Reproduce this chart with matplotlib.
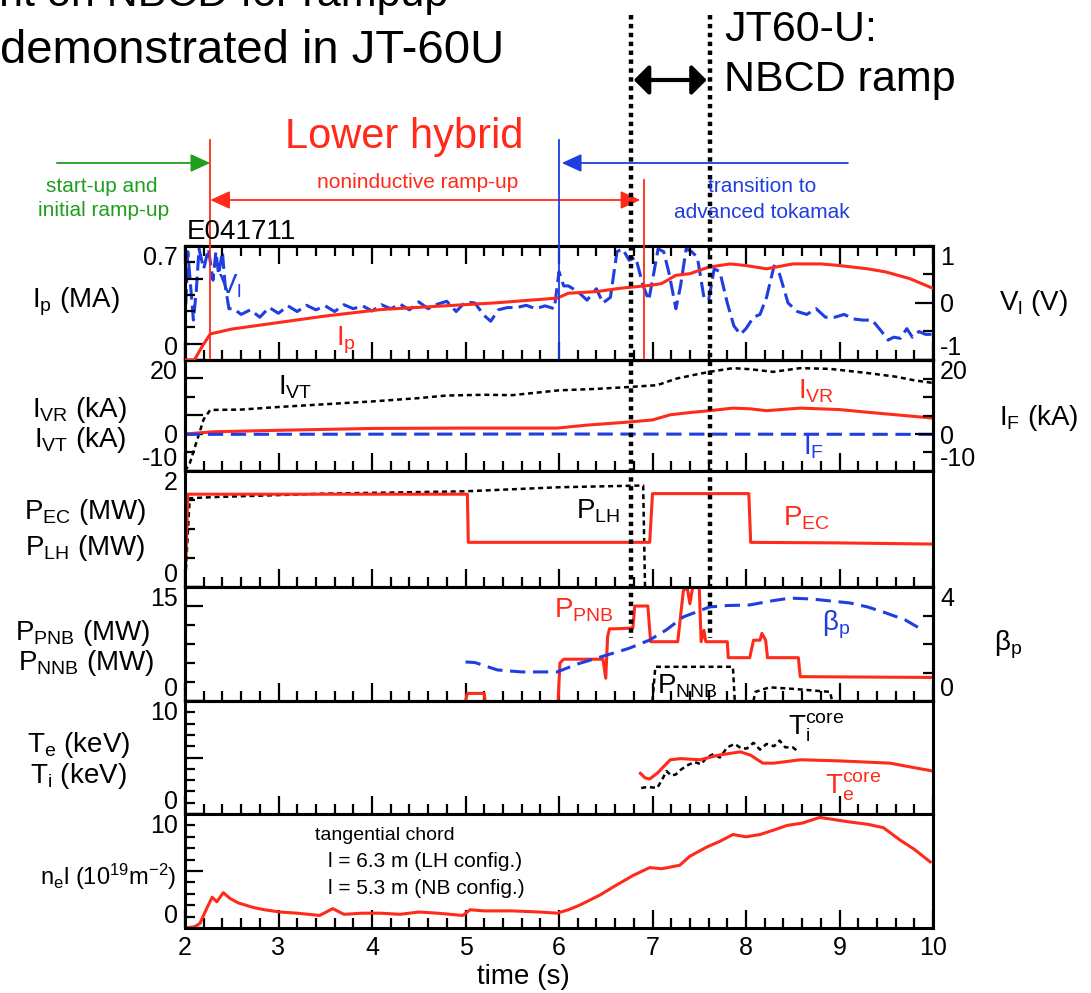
import numpy as np
import matplotlib
matplotlib.use("Agg")
import matplotlib.pyplot as plt
from matplotlib.patches import FancyArrowPatch
from matplotlib.lines import Line2D
from matplotlib.transforms import blended_transform_factory
from matplotlib.ticker import MultipleLocator

plt.rcParams['font.family'] = ['Liberation Sans', 'DejaVu Sans']
plt.rcParams['mathtext.fontset'] = 'custom'
plt.rcParams['mathtext.rm'] = 'Liberation Sans'
plt.rcParams['mathtext.it'] = 'Liberation Sans'
plt.rcParams['mathtext.default'] = 'regular'

RED = "#ff2a1a"
BLUE = "#1f3ee0"
GREEN = "#1f9e1f"

# ---- data ----
# phase boundaries (s)
t_lh_start = 2.27
t_transition = 6.0
t_lh_end = 6.91
t_nbcd = [6.77, 7.61]
t_green_from = 0.63
t_blue_from = 9.09

# panel 1: plasma current (MA) and loop voltage (V)
t_ip = [2.0, 2.1, 2.18, 2.27, 2.5, 3.0, 3.5, 4.1, 4.7, 5.3,
        5.98, 6.1, 6.4, 6.65, 7.0, 7.1, 7.25, 7.4, 7.6, 7.83,
        8.0, 8.22, 8.5, 8.8, 9.0, 9.3, 9.5, 9.75, 10.0]
ip = [0.0, 0.0, 0.08, 0.16, 0.19, 0.23, 0.27, 0.31, 0.33, 0.35,
      0.38, 0.41, 0.42, 0.44, 0.46, 0.47, 0.52, 0.53, 0.57, 0.59,
      0.58, 0.56, 0.59, 0.59, 0.58, 0.56, 0.54, 0.50, 0.44]

t_vl = [2.00, 2.03, 2.06, 2.09, 2.12, 2.15, 2.20, 2.25, 2.30, 2.33,
        2.36, 2.40, 2.43, 2.47, 2.52, 2.60, 2.70, 2.80, 2.90, 3.00,
        3.10, 3.20, 3.30, 3.40, 3.50, 3.60, 3.70, 3.80, 3.90, 4.00,
        4.10, 4.20, 4.30, 4.40, 4.50, 4.60, 4.70, 4.80, 4.90, 5.00,
        5.10, 5.20, 5.27, 5.35, 5.45, 5.55, 5.65, 5.75, 5.85, 5.95,
        6.00, 6.05, 6.10, 6.20, 6.30, 6.40, 6.47, 6.55, 6.62, 6.68,
        6.75, 6.82, 6.90, 6.96, 7.00, 7.06, 7.12, 7.18, 7.25, 7.30,
        7.36, 7.42, 7.48, 7.55, 7.60, 7.66, 7.72, 7.80, 7.87, 7.94,
        8.00, 8.08, 8.15, 8.22, 8.30, 8.36, 8.45, 8.55, 8.65, 8.75,
        8.85, 8.95, 9.05, 9.15, 9.25, 9.35, 9.45, 9.52, 9.58, 9.65,
        9.72, 9.78, 9.85, 9.92, 10.0]
v_l = [-0.4, 0.9, 0.3, -0.3, 0.2, 0.95, 0.6, 0.95, 0.4, 0.9,
       0.5, 0.9, 0.3, -0.1, -0.1, -0.2, -0.12, -0.25, -0.08, -0.18,
       -0.05, -0.15, -0.04, -0.12, -0.05, -0.15, -0.03, -0.1, -0.05, -0.14,
       -0.03, -0.1, -0.02, -0.12, 0.02, -0.1, -0.02, 0.03, -0.15, 0.02,
       0.0, -0.22, -0.32, -0.12, -0.08, -0.08, -0.04, -0.1, -0.05, -0.1,
       0.55, 0.3, 0.3, 0.2, 0.05, 0.25, 0.0, 0.1, 0.9, 0.95,
       0.75, 0.8, 0.3, 0.05, 0.4, 0.95, 0.9, 0.5, -0.1, 0.3,
       0.95, 0.9, 0.8, 0.1, 0.05, 0.6, 0.55, 0.0, -0.4, -0.55,
       -0.45, -0.25, -0.2, 0.1, 0.65, 0.5, 0.0, -0.15, -0.2, -0.1,
       -0.25, -0.25, -0.2, -0.28, -0.3, -0.3, -0.5, -0.65, -0.6, -0.62,
       -0.45, -0.6, -0.5, -0.55, -0.55]

# panel 2: coil currents (kA)
t_ivt = [2.0, 2.05, 2.1, 2.15, 2.2, 2.27, 2.6, 3.0, 3.4, 4.0,
         4.5, 4.8, 5.2, 5.5, 6.0, 6.4, 6.75, 7.05, 7.26, 7.45,
         7.61, 7.86, 8.05, 8.29, 8.58, 8.9, 9.29, 9.6, 9.8, 10.0]
i_vt = [-10, -8, -4, 0, 4, 6.5, 6.6, 7.3, 7.9, 8.8,
        9.7, 10.4, 10.6, 10.5, 11.8, 12.2, 12.7, 13.2, 15.0, 16.0,
        16.8, 17.8, 17.5, 16.8, 17.8, 17.6, 16.5, 15.5, 14.5, 13.8]
t_ivr = [2.0, 2.1, 2.3, 3.0, 4.0, 5.0, 5.98, 6.3, 6.73, 7.0,
         7.19, 7.4, 7.61, 7.86, 8.05, 8.22, 8.58, 9.0, 9.29, 9.6, 10.0]
i_vr = [0.0, 0.2, 0.6, 1.0, 1.5, 1.6, 1.6, 2.4, 3.2, 3.8,
        5.2, 5.8, 6.3, 7.0, 6.8, 6.3, 7.0, 6.6, 5.9, 5.2, 4.3]
t_if = [2.0, 6.0, 10.0]
i_f = [-0.1, 0.0, -0.1]

# panel 3: EC and LH power (MW)
t_pec = [2.0, 2.03, 5.02, 5.03, 6.97, 7.0, 8.03, 8.05, 9.0, 10.0]
p_ec = [0.0, 1.6, 1.6, 0.77, 0.77, 1.61, 1.61, 0.77, 0.76, 0.74]
t_plh = [2.0, 2.05, 2.3, 3.5, 5.0, 6.0, 6.9, 6.92]
p_lh = [0.0, 1.53, 1.55, 1.61, 1.65, 1.72, 1.75, 0.0]

# panel 4: NB powers (MW) and poloidal beta
t_pnb = [5.0, 5.02, 5.2, 5.21, 5.5, 5.99, 6.01, 6.05, 6.47, 6.5,
         6.52, 6.54, 6.6, 6.79, 6.81, 6.95, 6.98, 7.27, 7.33, 7.37,
         7.4, 7.43, 7.5, 7.52, 7.55, 7.57, 7.6, 7.8, 7.81, 8.04,
         8.08, 8.15, 8.17, 8.21, 8.23, 8.56, 8.58, 10.0]
p_pnb = [0.0, 1.0, 1.0, 0.0, np.nan, 0.0, 5.0, 5.5, 5.5, 3.0,
         8.5, 9.5, 9.5, 9.6, 12.5, 12.5, 7.8, 7.8, 14.5, 15.0,
         12.8, 15.0, 15.0, 7.8, 9.3, 7.8, 7.8, 7.8, 5.7, 5.7,
         8.0, 8.0, 8.9, 8.0, 5.7, 5.7, 3.2, 3.1]
t_pnnb = [7.0, 7.03, 7.86, 7.88, 8.0, 8.08, 8.1, 8.25, 8.5, 8.9, 8.92]
p_nnb = [0.0, 4.5, 4.5, 0.0, np.nan, 0.0, 1.2, 1.8, 1.6, 1.2, 0.0]
t_bp = [5.0, 5.1, 5.34, 5.6, 5.98, 6.2, 6.51, 6.75, 6.97, 7.15,
        7.33, 7.61, 7.8, 8.04, 8.25, 8.47, 8.7, 9.11, 9.3, 9.47,
        9.7, 9.89]
beta_p = [1.37, 1.35, 1.09, 1.02, 1.02, 1.3, 1.61, 1.85, 2.14, 2.5,
          2.95, 3.3, 3.35, 3.37, 3.5, 3.61, 3.58, 3.44, 3.3, 3.12,
          2.85, 2.49]

# panel 5: core temperatures (keV)
t_te = [6.87, 6.92, 6.97, 7.05, 7.19, 7.3, 7.51, 7.7, 7.94, 8.05,
        8.18, 8.3, 8.58, 9.0, 9.54, 9.8, 10.0]
te = [3.6, 3.2, 3.1, 3.6, 4.8, 4.9, 4.8, 5.2, 5.5, 5.2,
      4.5, 4.5, 4.8, 4.7, 4.5, 4.1, 3.8]
t_ti = [6.88, 6.95, 7.05, 7.1, 7.15, 7.2, 7.25, 7.3, 7.37, 7.45,
        7.52, 7.58, 7.65, 7.72, 7.8, 7.88, 7.95, 8.01, 8.08, 8.15,
        8.22, 8.3, 8.36, 8.42, 8.5, 8.56]
ti = [2.3, 2.4, 2.3, 3.0, 3.8, 3.4, 3.5, 3.9, 4.3, 4.6,
      4.4, 5.0, 5.3, 5.0, 5.9, 6.2, 5.8, 5.8, 6.3, 5.7,
      6.2, 6.0, 6.5, 5.9, 5.9, 5.5]

# panel 6: line density (1e19 m^-2)
t_nel = [2.0, 2.1, 2.16, 2.22, 2.29, 2.34, 2.41, 2.48, 2.57, 2.65,
         2.73, 2.85, 3.02, 3.2, 3.44, 3.58, 3.7, 3.9, 4.09, 4.3,
         4.5, 4.7, 4.97, 5.05, 5.2, 5.5, 5.8, 5.98, 6.1, 6.22,
         6.44, 6.58, 6.79, 6.97, 7.1, 7.29, 7.4, 7.58, 7.72, 7.86,
         8.0, 8.15, 8.3, 8.44, 8.6, 8.79, 8.95, 9.11, 9.3, 9.47,
         9.65, 9.8, 9.97]
nel = [0.0, 0.1, 0.4, 1.5, 2.7, 2.3, 3.1, 2.6, 2.2, 2.0,
       1.8, 1.6, 1.4, 1.3, 1.1, 1.7, 1.2, 1.3, 1.3, 1.2,
       1.4, 1.3, 1.1, 1.6, 1.5, 1.5, 1.4, 1.3, 1.6, 2.0,
       2.9, 3.6, 4.6, 5.3, 5.2, 5.5, 6.3, 7.1, 7.6, 8.2,
       8.0, 8.2, 8.6, 9.0, 9.2, 9.7, 9.5, 9.3, 9.1, 8.8,
       7.7, 6.9, 5.8]

# ---- figure ----
W, H = 1091, 993
fig = plt.figure(figsize=(W / 100, H / 100), dpi=100)


def px(x, y):
    return x / W, 1 - y / H


edges = [246, 360, 471, 587, 701, 814, 928]
axes = []
for i in range(6):
    ax = fig.add_axes([185 / W, 1 - edges[i + 1] / H, 748 / W, (edges[i + 1] - edges[i]) / H])
    ax.set_xlim(2, 10)
    ax.xaxis.set_major_locator(MultipleLocator(1))
    ax.xaxis.set_minor_locator(MultipleLocator(0.2))
    ax.tick_params(axis='both', which='both', direction='in', width=1.6,
                   top=(i == 0), right=False, labelsize=18, pad=5,
                   labelbottom=(i == 5))
    ax.tick_params(which='major', length=13)
    ax.tick_params(which='minor', length=7)
    for s in ax.spines.values():
        s.set_linewidth(2.2)
    axes.append(ax)


def yaxis(ax, lo, hi, labeled, long_t, short_t):
    ax.set_ylim(lo, hi)
    ticks = list(labeled) + list(long_t)
    labels = [("%g" % v) for v in labeled] + [""] * len(long_t)
    ax.set_yticks(ticks, labels=labels)
    ax.set_yticks(short_t, minor=True)
    ax.tick_params(axis='y', labelsize=18)
    for lab, v in zip(ax.get_yticklabels(), ticks):
        if v == hi:
            lab.set_va('top')
        elif v == lo:
            lab.set_va('bottom')


def twin(ax):
    axr = ax.twinx()
    axr.tick_params(axis='y', which='both', direction='in', width=1.6, pad=5)
    axr.tick_params(which='major', length=13)
    axr.tick_params(which='minor', length=7)
    for s in axr.spines.values():
        s.set_linewidth(2.2)
    return axr


ax1, ax2, ax3, ax4, ax5, ax6 = axes
ax6.tick_params(axis='x', labelsize=18, pad=6)
ax6.set_xlabel("time (s)", fontsize=20)
ax6.xaxis.set_label_coords(0.453, -0.32)

LBL = 20

# panel 1
yaxis(ax1, 0, 0.7, [0, 0.7], [0.1, 0.5], [0.2, 0.3, 0.4, 0.6])
ax1.plot(t_ip, ip, color=RED, lw=2.2, zorder=3)
ax1r = twin(ax1)
yaxis(ax1r, -1, 1, [-1, 0, 1], [], [-0.5, 0.5])
ax1r.plot(t_vl, v_l, color=BLUE, lw=2.2, ls=(0, (5, 2)))
ax1.set_zorder(ax1r.get_zorder() + 1)
ax1.patch.set_visible(False)
ax1.text(2.35, 0.45, "V$_l$", color=BLUE, fontsize=LBL, va='center')
ax1.text(3.62, 0.12, "I$_p$", color=RED, fontsize=LBL, va='center')

# panel 2
yaxis(ax2, -10, 20, [-10, 0, 20], [5, 15], [-5, 10])
ax2.plot(t_ivt, i_vt, color='black', lw=1.8, ls=(0, (2, 1.5)))
ax2.plot(t_ivr, i_vr, color=RED, lw=2.2)
ax2.plot(t_if, i_f, color=BLUE, lw=2.2, ls=(0, (5, 2.5)))
ax2r = twin(ax2)
yaxis(ax2r, -10, 20, [-10, 0, 20], [], [-5, 5, 10, 15])
ax2.text(2.99, 12.6, "I$_{VT}$", color='black', fontsize=LBL, va='center')
ax2.text(8.56, 11.6, "I$_{VR}$", color=RED, fontsize=LBL, va='center')
ax2.text(8.61, -3.6, "I$_F$", color=BLUE, fontsize=LBL, va='center')

# panel 3
yaxis(ax3, 0, 2, [0, 2], [], [0.5, 1.0, 1.5])
ax3.plot(t_plh, p_lh, color='black', lw=1.8, ls=(0, (2, 1.5)))
ax3.plot(t_pec, p_ec, color=RED, lw=2.2)
ax3.text(6.18, 1.3, "P$_{LH}$", color='black', fontsize=LBL, va='center')
ax3.text(8.4, 1.18, "P$_{EC}$", color=RED, fontsize=LBL, va='center')

# panel 4
yaxis(ax4, 0, 15, [0, 15], [12.5], [2.5, 5, 7.5, 10])
ax4.plot(t_pnb, p_pnb, color=RED, lw=2.2, zorder=3)
ax4.plot(t_pnnb, p_nnb, color='black', lw=1.8, ls=(0, (2, 1.5)))
ax4r = twin(ax4)
yaxis(ax4r, 0, 4, [0, 4], [], [1, 2, 3])
ax4r.plot(t_bp, beta_p, color=BLUE, lw=2.2, ls=(0, (5, 2.5)))
ax4.text(5.95, 12.0, "P$_{PNB}$", color=RED, fontsize=LBL, va='center')
ax4.text(7.05, 2.0, "P$_{NNB}$", color='black', fontsize=LBL, va='center')
ax4r.text(8.81, 2.67, "β$_p$", color=BLUE, fontsize=LBL, va='center')

# panel 5
yaxis(ax5, 0, 10, [0, 10], [5], [1, 2, 3, 4, 6, 7, 8, 9])
ax5.plot(t_ti, ti, color='black', lw=1.8, ls=(0, (2, 1.5)))
ax5.plot(t_te, te, color=RED, lw=2.2)
ax5.text(8.45, 7.6, "T$_i^{core}$", color='black', fontsize=LBL, va='center')
ax5.text(8.84, 2.4, "T$_e^{core}$", color=RED, fontsize=LBL, va='center')

# panel 6
yaxis(ax6, 0, 10, [0, 10], [5], [1, 2, 3, 4, 6, 7, 8, 9])
ax6.plot(t_nel, nel, color=RED, lw=2.2)
ax6.text(3.39, 8.1, "tangential chord", fontsize=14, va='center')
ax6.text(3.53, 5.8, "l = 6.3 m (LH config.)", fontsize=15, va='center')
ax6.text(3.53, 3.5, "l = 5.3 m (NB config.)", fontsize=15, va='center')

# axis labels (left and right)
left_labels = [("I$_p$ (MA)", 76, 302, LBL), ("I$_{VR}$ (kA)", 79, 410, LBL),
               ("I$_{VT}$ (kA)", 80, 440, LBL),
               ("P$_{EC}$ (MW)", 85, 512, LBL), ("P$_{LH}$ (MW)", 85, 548, LBL),
               ("P$_{PNB}$ (MW)", 83, 633, LBL), ("P$_{NNB}$ (MW)", 86, 663, LBL),
               ("T$_e$ (keV)", 79, 745, LBL), ("T$_i$ (keV)", 78, 776, LBL),
               ("n$_e$l (10$^{19}$m$^{-2}$)", 108, 877, 17)]
for s, x, y, fs in left_labels:
    fig.text(*px(x, y), s, fontsize=fs, ha='center', va='center')
for s, x, y in [("V$_l$ (V)", 1033, 303), ("I$_F$ (kA)", 1039, 418), ("β$_p$", 1008, 645)]:
    fig.text(*px(x, y), s, fontsize=LBL, ha='center', va='center')

# headline and annotations above the panels
fig.text(*px(448, 6), "Less reliant on NBCD for rampup", fontsize=31, ha='right', va='baseline')
fig.text(*px(0, 63), "demonstrated in JT-60U", fontsize=34, ha='left', va='baseline')
fig.text(*px(724, 30), "JT60-U:", fontsize=31, ha='left', va='center')
fig.text(*px(724, 80), "NBCD ramp", fontsize=31, ha='left', va='center')
fig.text(*px(404, 137), "Lower hybrid", fontsize=30, color=RED, ha='center', va='center')
fig.text(*px(102, 186), "start-up and", fontsize=15, color=GREEN, ha='center', va='center')
fig.text(*px(104, 211), "initial ramp-up", fontsize=15, color=GREEN, ha='center', va='center')
fig.text(*px(418, 183), "noninductive ramp-up", fontsize=15, color=RED, ha='center', va='center')
fig.text(*px(762, 186), "transition to", fontsize=15, color=BLUE, ha='center', va='center')
fig.text(*px(762, 213), "advanced tokamak", fontsize=15, color=BLUE, ha='center', va='center')
fig.text(*px(187, 232), "E041711", fontsize=20, ha='left', va='center')

tr = blended_transform_factory(ax6.transData, fig.transFigure)


def fy(y):
    return 1 - y / H


def vline(t, y0, y1, **kw):
    fig.add_artist(Line2D([t, t], [fy(y0), fy(y1)], transform=tr, **kw))


def arrow(t0, t1, y, color, style, lw, ms):
    fig.add_artist(FancyArrowPatch((t0, fy(y)), (t1, fy(y)), transform=tr, arrowstyle=style,
                                   color=color, lw=lw, mutation_scale=ms, shrinkA=0, shrinkB=0))


vline(t_lh_start, 140, 358, color=RED, lw=1.3)
vline(t_transition, 140, 358, color=BLUE, lw=1.3)
vline(t_lh_end, 180, 358, color=RED, lw=1.3)
for t in t_nbcd:
    vline(t, 15, 638, color='black', lw=3.2, ls=(0, (1, 1)))

arrow(t_green_from, t_lh_start, 163, GREEN, '-|>,head_length=1.2,head_width=0.55', 1.3, 10)
arrow(t_blue_from, t_transition + 0.03, 163, BLUE, '-|>,head_length=1.2,head_width=0.55', 1.3, 10)
arrow(t_lh_start, t_lh_end - 0.04, 200, RED, '<|-|>,head_length=1.2,head_width=0.55', 1.3, 10)
arrow(t_nbcd[0] + 0.03, t_nbcd[1] - 0.03, 80, 'black', '<|-|>,head_length=0.9,head_width=0.9', 3.0, 10)

fig.savefig("out.png", dpi=100)
